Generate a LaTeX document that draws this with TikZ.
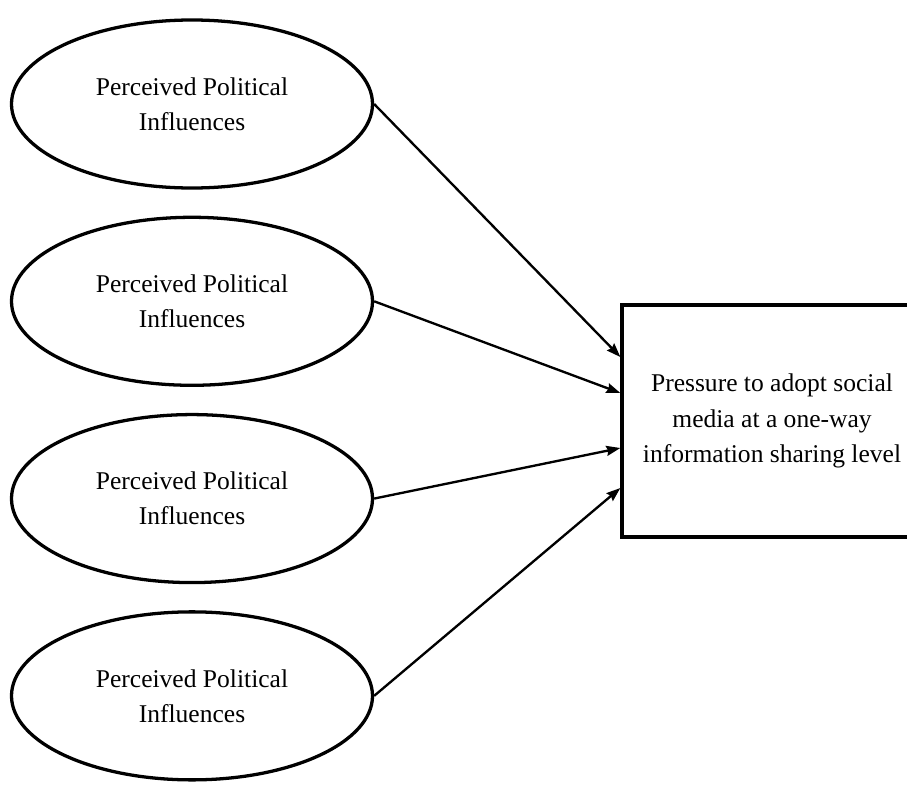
\documentclass[tikz,border=0pt]{standalone}
\usepackage{fontspec}
\setmainfont{Liberation Serif}
\usetikzlibrary{positioning,arrows.meta,shapes.geometric}
\tikzset{infl node/.style={ellipse,draw,line width=2.8pt,minimum width=10.83cm,minimum height=5.04cm,inner sep=0pt,align=center,font=\fontsize{21.8}{30}\selectfont},
	out node/.style={rectangle,draw,line width=2.8pt,minimum width=9cm,minimum height=6.96cm,inner sep=0pt,align=center,font=\fontsize{21.8}{30}\selectfont},
	link/.style={-{Stealth[length=0.42cm,width=0.3cm,inset=0.05cm]},line width=2pt}
}

\begin{document}
\begin{tikzpicture}[x=0.03cm,y=-0.03cm]
			\useasboundingbox (0,0) rectangle (907,786);
			
			%%
			\node[infl node] (1) at (192,104) {Perceived Political\\Influences};
			\node[infl node] (2) [below = 0.78cm of 1] {Perceived Political\\Influences};
			\node[infl node] (3) [below = 0.78cm of 2] {Perceived Political\\Influences};
			\node[infl node] (4) [below = 0.78cm of 3] {Perceived Political\\Influences};
			\node[out node] (5) at (772,421) {Pressure to adopt social\\media at a one-way\\information sharing level};
			
			\path[link]
			(1.east) edge ([yshift=1.92cm]5.west)
			(2.east) edge ([yshift=0.84cm]5.west)
			(3.east) edge ([yshift=-0.81cm]5.west)
			(4.east) edge ([yshift=-2.01cm]5.west)
			;
			\end{tikzpicture}
\end{document}
